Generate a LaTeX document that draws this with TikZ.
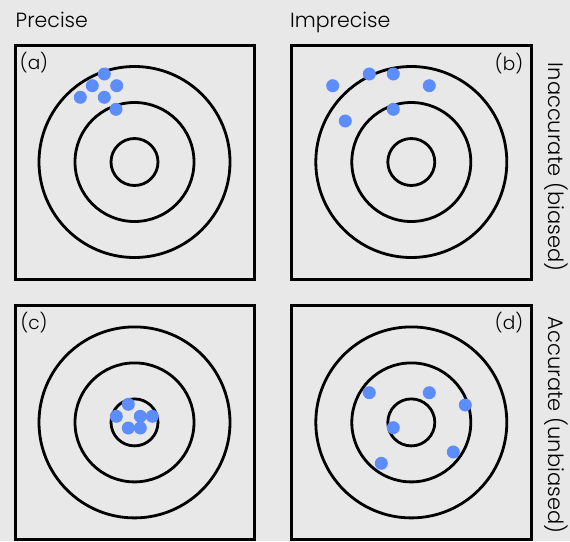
\documentclass[tikz,border=0pt]{standalone}
\usepackage{fontspec}
\setmainfont{Poppins}[UprightFont=* Light]
\definecolor{bgc}{RGB}{232,232,232}
\definecolor{dotc}{RGB}{92,141,250}
\tikzset{
  panel/.style={draw=black, line width=3pt},
  ring/.style={draw=black, line width=2.8pt},
  hit/.style={fill=dotc},
  tag/.style={font=\fontsize{18.5}{18.5}\selectfont, inner sep=0pt},
  head/.style={font=\fontsize{20.5}{20.5}\selectfont, inner sep=0pt, anchor=base west},
  side/.style={font=\fontsize{21}{21}\selectfont, inner sep=0pt, rotate=-90},
}
\newcommand{\target}[2]{%
  \draw[ring] (#1,#2) circle (95.5);
  \draw[ring] (#1,#2) circle (59.5);
  \draw[ring] (#1,#2) circle (23.5);
}
\begin{document}
\begin{tikzpicture}[x=1pt,y=-1pt]
\fill[bgc] (0,0) rectangle (570,541);
\useasboundingbox (0,0) rectangle (570,541);
% panels
\draw[panel] (15,45) rectangle (254,279);
\draw[panel] (291.5,45) rectangle (531,279);
\draw[panel] (15,305.5) rectangle (254,539.5);
\draw[panel] (291.5,305.5) rectangle (531,539.5);
\target{134.5}{162}
\target{411.3}{162}
\target{134.5}{422.4}
\target{411.3}{422.4}
% headings
\node[head] (hp) at (15.5,27.5) {Precise};
\node[head] (hi) at (290,27.5) {Imprecise};
\node[side] (sb) at (556.5,167) {Inaccurate (biased)};
\node[side] (su) at (556.5,425) {Accurate (unbiased)};
% tags
\node[tag] (ta) at (34,63) {(a)};
\node[tag] (tb) at (509,63.5) {(b)};
\node[tag] (tc) at (34,323) {(c)};
\node[tag] (td) at (509,323) {(d)};
% dots a
\foreach \p in {(104.3,74),(92.3,85.7),(116.7,85.7),(80.3,97.3),(104.3,97.3),(116,109.3)}
  \fill[hit] \p circle (6.5);
% dots b
\foreach \p in {(332.7,85.7),(369.3,74),(393.3,74),(429.3,85.7),(393.3,109.3),(345.3,121)}
  \fill[hit] \p circle (6.5);
% dots c
\foreach \p in {(128.3,404.3),(116.3,416.3),(140.3,416.3),(152.3,416.3),(128.3,428),(140.3,428)}
  \fill[hit] \p circle (6.5);
% dots d
\foreach \p in {(369.3,392.7),(429.3,392.7),(465.3,405),(393.3,427.7),(453.3,452),(381.3,463.3)}
  \fill[hit] \p circle (6.5);
\end{tikzpicture}
\end{document}
